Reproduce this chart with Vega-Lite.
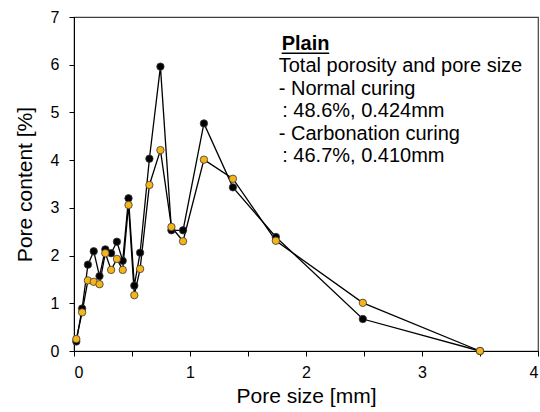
{
  "$schema": "https://vega.github.io/schema/vega-lite/v6.json",
  "autosize": {"type": "none"},
  "width": 464,
  "height": 334,
  "padding": {"left": 74, "top": 17, "right": 2, "bottom": 61},
  "background": "white",
  "config": {
    "font": "Liberation Sans",
    "view": {"stroke": "#404040", "strokeWidth": 1.2},
    "axis": {
      "grid": false,
      "domainColor": "#000000",
      "tickColor": "#000000",
      "labelColor": "#000000",
      "titleColor": "#000000",
      "labelFontSize": 16,
      "titleFontSize": 21,
      "titleFontWeight": "normal",
      "tickSize": 5,
      "labelFont": "Liberation Sans",
      "titleFont": "Liberation Sans"
    }
  },
  "datasets": {
    "pores": [
      {"size": 0.02, "content": 0.2, "curing": "Normal curing"},
      {"size": 0.07, "content": 0.89, "curing": "Normal curing"},
      {"size": 0.12, "content": 1.81, "curing": "Normal curing"},
      {"size": 0.17, "content": 2.09, "curing": "Normal curing"},
      {"size": 0.22, "content": 1.57, "curing": "Normal curing"},
      {"size": 0.27, "content": 2.13, "curing": "Normal curing"},
      {"size": 0.32, "content": 2.05, "curing": "Normal curing"},
      {"size": 0.37, "content": 2.29, "curing": "Normal curing"},
      {"size": 0.42, "content": 1.89, "curing": "Normal curing"},
      {"size": 0.47, "content": 3.2, "curing": "Normal curing"},
      {"size": 0.52, "content": 1.37, "curing": "Normal curing"},
      {"size": 0.57, "content": 2.06, "curing": "Normal curing"},
      {"size": 0.65, "content": 4.03, "curing": "Normal curing"},
      {"size": 0.745, "content": 5.96, "curing": "Normal curing"},
      {"size": 0.84, "content": 2.53, "curing": "Normal curing"},
      {"size": 0.94, "content": 2.53, "curing": "Normal curing"},
      {"size": 1.12, "content": 4.77, "curing": "Normal curing"},
      {"size": 1.37, "content": 3.43, "curing": "Normal curing"},
      {"size": 1.74, "content": 2.39, "curing": "Normal curing"},
      {"size": 2.49, "content": 0.67, "curing": "Normal curing"},
      {"size": 3.5, "content": 0.0, "curing": "Normal curing"},
      {"size": 0.02, "content": 0.25, "curing": "Carbonation curing"},
      {"size": 0.07, "content": 0.81, "curing": "Carbonation curing"},
      {"size": 0.12, "content": 1.48, "curing": "Carbonation curing"},
      {"size": 0.17, "content": 1.45, "curing": "Carbonation curing"},
      {"size": 0.22, "content": 1.4, "curing": "Carbonation curing"},
      {"size": 0.27, "content": 2.05, "curing": "Carbonation curing"},
      {"size": 0.32, "content": 1.7, "curing": "Carbonation curing"},
      {"size": 0.37, "content": 1.93, "curing": "Carbonation curing"},
      {"size": 0.42, "content": 1.7, "curing": "Carbonation curing"},
      {"size": 0.47, "content": 3.06, "curing": "Carbonation curing"},
      {"size": 0.52, "content": 1.17, "curing": "Carbonation curing"},
      {"size": 0.57, "content": 1.72, "curing": "Carbonation curing"},
      {"size": 0.65, "content": 3.48, "curing": "Carbonation curing"},
      {"size": 0.745, "content": 4.21, "curing": "Carbonation curing"},
      {"size": 0.84, "content": 2.6, "curing": "Carbonation curing"},
      {"size": 0.94, "content": 2.3, "curing": "Carbonation curing"},
      {"size": 1.12, "content": 4.01, "curing": "Carbonation curing"},
      {"size": 1.37, "content": 3.61, "curing": "Carbonation curing"},
      {"size": 1.74, "content": 2.31, "curing": "Carbonation curing"},
      {"size": 2.49, "content": 1.01, "curing": "Carbonation curing"},
      {"size": 3.5, "content": 0.0, "curing": "Carbonation curing"}
    ],
    "title": [
      {"x": 1.79, "y": 6.43, "label": "Plain"}
    ],
    "notes": [
      {"x": 1.765, "y": 5.97, "label": "Total porosity and pore size"},
      {"x": 1.765, "y": 5.5, "label": "- Normal curing"},
      {"x": 1.795, "y": 5.03, "label": ": 48.6%, 0.424mm"},
      {"x": 1.765, "y": 4.55, "label": "- Carbonation curing"},
      {"x": 1.795, "y": 4.08, "label": ": 46.7%, 0.410mm"}
    ],
    "underline": [
      {"x": 1.79, "x2": 2.2, "y": 6.24}
    ]
  },
  "layer": [
    {
      "data": {"name": "pores"},
      "mark": {"type": "line", "color": "#000000", "strokeWidth": 1.3},
      "encoding": {
        "x": {
          "field": "size", "type": "quantitative",
          "scale": {"domain": [0, 4], "nice": false, "zero": false},
          "axis": {
            "title": "Pore size [mm]",
            "values": [0, 0.5, 1, 1.5, 2, 2.5, 3, 3.5, 4],
            "labelExpr": "datum.value % 1 === 0 ? format(datum.value, 'd') : ''",
            "labelPadding": 8,
            "titlePadding": 5
          }
        },
        "y": {
          "field": "content", "type": "quantitative",
          "scale": {"domain": [0, 7], "nice": false},
          "axis": {
            "title": "Pore content [%]",
            "values": [0, 0.5, 1, 1.5, 2, 2.5, 3, 3.5, 4, 4.5, 5, 5.5, 6, 6.5, 7],
            "labelExpr": "datum.value % 1 === 0 ? format(datum.value, 'd') : ''",
            "labelPadding": 10,
            "titlePadding": 15
          }
        },
        "detail": {"field": "curing"}
      }
    },
    {
      "data": {"name": "pores"},
      "mark": {"type": "point", "filled": true, "size": 55, "stroke": "#3a3a3a", "strokeWidth": 0.8, "opacity": 1},
      "encoding": {
        "x": {"field": "size", "type": "quantitative"},
        "y": {"field": "content", "type": "quantitative"},
        "fill": {
          "field": "curing", "type": "nominal",
          "scale": {"domain": ["Normal curing", "Carbonation curing"], "range": ["#000000", "#F5B418"]},
          "legend": null
        }
      }
    },
    {
      "data": {"name": "title"},
      "mark": {"type": "text", "align": "left", "baseline": "middle", "fontSize": 20, "fontWeight": "bold", "font": "Liberation Sans", "color": "#000000"},
      "encoding": {
        "x": {"field": "x", "type": "quantitative"},
        "y": {"field": "y", "type": "quantitative"},
        "text": {"field": "label"}
      }
    },
    {
      "data": {"name": "notes"},
      "mark": {"type": "text", "align": "left", "baseline": "middle", "fontSize": 20, "font": "Liberation Sans", "color": "#000000"},
      "encoding": {
        "x": {"field": "x", "type": "quantitative"},
        "y": {"field": "y", "type": "quantitative"},
        "text": {"field": "label"}
      }
    },
    {
      "data": {"name": "underline"},
      "mark": {"type": "rule", "color": "#000000", "strokeWidth": 1.6},
      "encoding": {
        "x": {"field": "x", "type": "quantitative"},
        "x2": {"field": "x2"},
        "y": {"field": "y", "type": "quantitative"}
      }
    }
  ]
}
